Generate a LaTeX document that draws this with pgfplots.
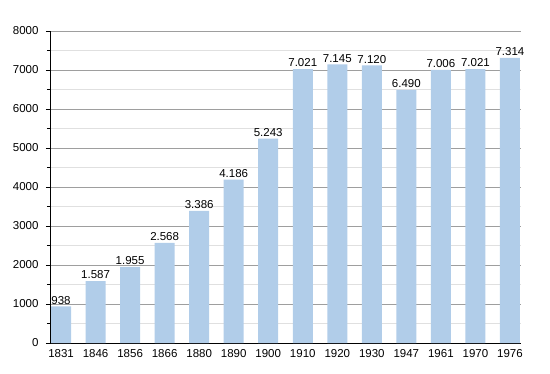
\documentclass[border=0pt]{standalone}
\usepackage{pgfplots}
\pgfplotsset{compat=1.18}
\usepackage{fontspec}
\setmainfont{Liberation Sans}
\definecolor{barc}{HTML}{B1CDE9}
\begin{document}
\begin{tikzpicture}
\begin{axis}[
  name=ax,
  scale only axis,
  width=471pt, height=312pt,
  xmin=-0.32, xmax=13.32,
  ymin=0, ymax=8000,
  xtick={0,...,13},
  xticklabels={1831,1846,1856,1866,1880,1890,1900,1910,1920,1930,1947,1961,1970,1976},
  ytick={0,1000,...,8000},
  minor ytick={500,1500,...,7500},
  ymajorgrids, yminorgrids,
  major grid style={color=black!38, line width=0.8pt},
  minor grid style={color=black!12, line width=0.8pt},
  axis x line*=bottom, axis y line*=left,
  axis line style={black, line width=0.8pt},
  x axis line style={-}, y axis line style={-},
  xtick style={draw=none},
  ytick style={black, line width=0.8pt},
  major tick length=4pt, minor tick length=3pt,
  tick align=outside,
  font=\fontsize{11.5}{13}\selectfont,
  ticklabel style={font=\fontsize{11.5}{13}\selectfont},
  /pgf/number format/assume math mode=true,
  /pgf/number format/1000 sep={},
  xticklabel style={yshift=1pt},
  yticklabel style={xshift=-4pt},
  clip=false,
]
\addplot[ybar, bar width=20pt, fill=barc, draw=none,
  nodes near coords, point meta=explicit symbolic,
  every node near coord/.append style={font=\fontsize{11.5}{13}\selectfont, text=black, inner sep=1pt, yshift=1pt}]
  coordinates {
  (0,938) [938]
  (1,1587) [1.587]
  (2,1955) [1.955]
  (3,2568) [2.568]
  (4,3386) [3.386]
  (5,4186) [4.186]
  (6,5243) [5.243]
  (7,7021) [7.021]
  (8,7145) [7.145]
  (9,7120) [7.120]
  (10,6490) [6.490]
  (11,7006) [7.006]
  (12,7021) [7.021]
  (13,7314) [7.314]
  };
\end{axis}
\path[use as bounding box] ([xshift=-50pt,yshift=-30pt]ax.south west) rectangle ([xshift=29pt,yshift=31pt]ax.north east);
\end{tikzpicture}
\end{document}
